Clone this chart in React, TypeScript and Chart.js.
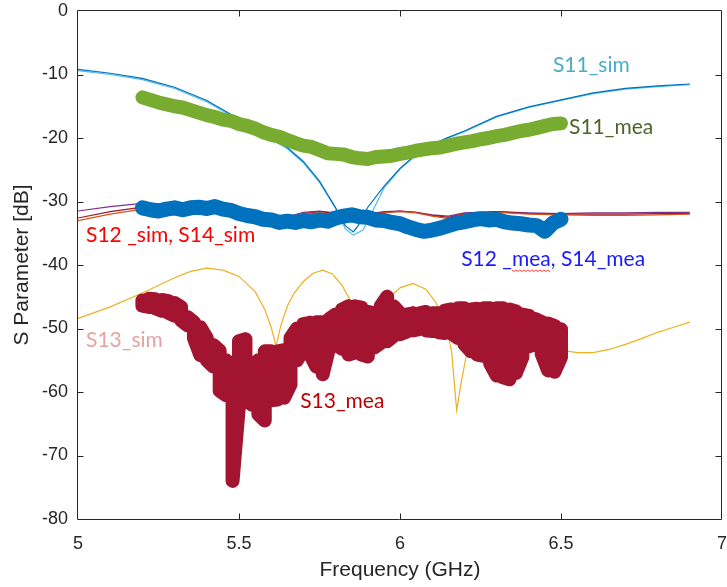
import React, { useEffect, useRef } from "react";
import { Chart, registerables } from "chart.js";

Chart.register(...registerables);

// ---- simulated S11 (two overlapping traces) ----
const s11SimFreq = [5.0, 5.1, 5.2, 5.3, 5.4, 5.5, 5.6, 5.65, 5.7, 5.75, 5.8, 5.83, 5.855, 5.87, 5.9, 5.95, 6.0, 6.05, 6.1, 6.15, 6.2, 6.3, 6.4, 6.5, 6.6, 6.7, 6.8, 6.9];
const s11Sim = [-9.2, -9.8, -10.6, -12.0, -14.1, -17.0, -20.0, -21.5, -23.7, -26.8, -31.0, -33.8, -34.8, -33.8, -30.9, -27.6, -24.8, -22.6, -21.0, -19.9, -18.9, -16.6, -15.1, -14.0, -12.9, -12.2, -11.8, -11.5];
const s11SimBFreq = [5.0, 5.1, 5.2, 5.3, 5.4, 5.5, 5.6, 5.65, 5.7, 5.75, 5.8, 5.83, 5.855, 5.885, 5.917, 5.95, 6.0, 6.05, 6.1, 6.15, 6.2, 6.3, 6.4, 6.5, 6.6, 6.7, 6.8, 6.9];
const s11SimB = [-9.4, -10.0, -10.8, -12.2, -14.3, -17.2, -20.2, -21.7, -23.9, -27.0, -31.0, -34.3, -35.3, -34.5, -31.3, -27.9, -24.9, -22.7, -21.1, -20.0, -19.0, -16.7, -15.2, -14.1, -13.0, -12.3, -11.9, -11.6];

// ---- simulated S12 / S14 ----
const simFreq = [5.0, 5.1, 5.2, 5.3, 5.4, 5.5, 5.6, 5.65, 5.7, 5.75, 5.8, 5.9, 5.95, 6.0, 6.05, 6.1, 6.15, 6.2, 6.3, 6.4, 6.5, 6.6, 6.7, 6.8, 6.9];
const s12Sim = [-33.0, -32.0, -31.2, -31.0, -31.7, -32.4, -32.8, -32.7, -32.0, -31.8, -32.0, -32.2, -31.8, -31.6, -31.8, -32.3, -32.7, -32.0, -31.7, -32.0, -32.1, -32.2, -32.2, -32.1, -32.0];
const s14Sim = [-31.5, -30.8, -30.3, -30.4, -31.2, -32.1, -32.6, -32.4, -31.7, -31.5, -31.8, -32.0, -31.6, -31.5, -31.7, -32.1, -32.3, -31.8, -31.6, -31.8, -31.9, -31.8, -31.8, -31.7, -31.7];
const s12SimB = [-32.6, -31.6, -30.9, -30.8, -31.5, -32.3, -32.7, -32.6, -31.9, -31.6, -31.9, -32.1, -31.7, -31.5, -31.7, -32.2, -32.5, -31.9, -31.6, -31.9, -32.0, -32.0, -32.0, -31.9, -31.9];

// ---- simulated S13 ----
const s13SimFreq = [5.0, 5.1, 5.2, 5.3, 5.35, 5.4, 5.45, 5.5, 5.55, 5.58, 5.6, 5.615, 5.63, 5.65, 5.67, 5.7, 5.73, 5.76, 5.79, 5.82, 5.85, 5.88, 5.91, 5.94, 5.97, 6.0, 6.04, 6.08, 6.11, 6.14, 6.16, 6.176, 6.19, 6.207, 6.225, 6.26, 6.3, 6.4, 6.5, 6.55, 6.6, 6.65, 6.7, 6.75, 6.8, 6.85, 6.9];
const s13Sim = [-48.4, -46.6, -44.4, -42.0, -41.0, -40.5, -40.8, -41.8, -44.2, -47.0, -49.8, -52.8, -49.5, -46.5, -44.5, -42.6, -41.3, -40.8, -41.4, -43.2, -46.0, -49.0, -50.5, -48.0, -45.0, -43.6, -42.9, -43.8, -45.8, -49.0, -53.5, -62.9, -58.5, -54.0, -51.3, -49.6, -49.4, -51.0, -53.4, -53.8, -53.8, -53.3, -52.5, -51.6, -50.6, -49.8, -49.0];

// ---- measured S11 and S12/S14 ----
const meaFreq = [5.2, 5.225, 5.25, 5.275, 5.3, 5.325, 5.35, 5.375, 5.4, 5.425, 5.45, 5.475, 5.5, 5.525, 5.55, 5.575, 5.6, 5.625, 5.65, 5.675, 5.7, 5.725, 5.75, 5.775, 5.8, 5.825, 5.85, 5.875, 5.9, 5.925, 5.95, 5.975, 6.0, 6.025, 6.05, 6.075, 6.1, 6.125, 6.15, 6.175, 6.2, 6.225, 6.25, 6.275, 6.3, 6.325, 6.35, 6.375, 6.4, 6.425, 6.45, 6.475, 6.5];
const s11Mea = [-13.6, -14.0, -14.4, -14.7, -15.0, -15.2, -15.6, -16.0, -16.4, -16.7, -17.1, -17.3, -17.8, -18.1, -18.5, -19.1, -19.5, -19.8, -20.3, -20.8, -21.2, -21.4, -21.9, -22.4, -22.5, -22.6, -23.0, -23.2, -23.3, -23.0, -22.9, -22.8, -22.5, -22.3, -22.0, -21.8, -21.6, -21.5, -21.2, -20.9, -20.7, -20.5, -20.2, -20.0, -19.7, -19.5, -19.2, -18.9, -18.7, -18.4, -18.1, -17.8, -17.7];
const s12Mea = [-31.0, -31.3, -31.5, -31.2, -31.0, -31.3, -31.0, -30.9, -31.1, -30.8, -31.2, -31.4, -31.9, -32.2, -32.4, -32.8, -32.9, -33.3, -33.1, -33.3, -33.0, -33.2, -32.9, -33.1, -32.6, -32.3, -32.1, -32.4, -32.5, -32.9, -33.0, -33.3, -33.5, -34.0, -34.4, -34.7, -34.5, -34.2, -33.8, -33.4, -33.2, -32.9, -32.7, -32.9, -32.8, -33.2, -33.4, -33.5, -33.7, -33.8, -34.7, -33.4, -32.8];

// ---- measured S13: upper / lower extent of the trace at each frequency ----
const s13MeaFreq = [5.2, 5.22, 5.24, 5.26, 5.28, 5.3, 5.32, 5.34, 5.36, 5.38, 5.4, 5.42, 5.44, 5.46, 5.48, 5.5, 5.52, 5.54, 5.56, 5.58, 5.6, 5.62, 5.64, 5.66, 5.68, 5.7, 5.72, 5.74, 5.76, 5.78, 5.8, 5.82, 5.84, 5.86, 5.88, 5.9, 5.92, 5.94, 5.96, 5.98, 6.0, 6.02, 6.04, 6.06, 6.08, 6.1, 6.12, 6.14, 6.16, 6.18, 6.2, 6.22, 6.24, 6.26, 6.28, 6.3, 6.32, 6.34, 6.36, 6.38, 6.4, 6.42, 6.44, 6.46, 6.48, 6.5];
const s13MeaHigh = [-45.6, -45.3, -45.4, -45.5, -45.7, -46.0, -46.6, -48.2, -49.0, -49.8, -51.5, -52.6, -53.5, -55.0, -56.0, -52.0, -51.7, -56.5, -55.0, -53.6, -53.6, -53.6, -53.4, -51.5, -50.0, -49.3, -49.1, -49.0, -49.0, -48.5, -47.8, -47.0, -46.5, -46.5, -46.7, -47.4, -47.6, -46.5, -45.0, -46.5, -47.6, -47.8, -47.6, -47.6, -47.4, -47.6, -47.6, -47.2, -47.0, -46.8, -46.8, -47.0, -46.9, -46.8, -46.8, -46.8, -46.8, -47.0, -47.3, -47.8, -48.0, -48.5, -49.0, -49.2, -49.6, -50.1];
const s13MeaLow = [-46.4, -46.6, -46.8, -47.2, -47.5, -48.0, -48.7, -49.5, -51.5, -54.2, -55.0, -56.0, -59.8, -60.5, -74.0, -62.0, -61.0, -62.0, -63.5, -64.5, -61.3, -61.2, -60.9, -58.8, -55.0, -53.4, -54.0, -56.0, -57.2, -53.0, -52.5, -53.2, -54.1, -53.8, -54.1, -54.4, -53.0, -52.3, -52.0, -51.2, -50.9, -50.5, -50.3, -50.1, -50.3, -50.4, -50.6, -50.7, -50.8, -51.5, -52.5, -53.6, -54.1, -54.3, -55.5, -57.4, -57.7, -58.0, -57.0, -54.5, -52.8, -52.5, -54.0, -56.6, -56.8, -54.5];

// ---- text labels placed on the plot (data coordinates of the text baseline start) ----
const labels = [
  { text: "S11_sim", color: "#4BACC6", x: 6.475, y: -9.56 },
  { text: "S11_mea", color: "#4F6228", x: 6.525, y: -19.37 },
  { text: "S12 _sim, S14_sim", color: "#FF0000", x: 5.025, y: -36.33 },
  { text: "S12 _mea, S14_mea", color: "#1A1AFF", x: 6.19, y: -40.16 },
  { text: "S13_sim", color: "#E6A3A3", x: 5.025, y: -52.87 },
  { text: "S13_mea", color: "#C00000", x: 5.69, y: -62.57 },
];

const xTicks = [5, 5.5, 6, 6.5, 7];
const yTicks = [-80, -70, -60, -50, -40, -30, -20, -10, 0];

const pts = (xs: number[], ys: number[]) => xs.map((x, i) => ({ x, y: ys[i] }));

// Meander through the upper and lower extent so a thick stroke fills the band.
const bandPath = (xs: number[], hi: number[], lo: number[]) =>
  xs.flatMap((x, i) =>
    i % 2 === 0
      ? [{ x, y: hi[i] }, { x, y: lo[i] }]
      : [{ x, y: lo[i] }, { x, y: hi[i] }]
  );

const thin = (label: string, data: { x: number; y: number }[], color: string) => ({
  label,
  data,
  showLine: true,
  borderColor: color,
  backgroundColor: color,
  borderWidth: 1.2,
  pointRadius: 0,
  order: 2,
});

const thick = (label: string, data: { x: number; y: number }[], color: string, width: number) => ({
  label,
  data,
  showLine: true,
  borderColor: color,
  backgroundColor: color,
  borderWidth: width,
  borderCapStyle: "round" as const,
  borderJoinStyle: "round" as const,
  pointRadius: 0,
  order: 1,
});

// Text labels on the plot.
const labelPlugin = {
  id: "plotLabels",
  afterDatasetsDraw(chart: any) {
    const ctx = chart.ctx;
    const xs = chart.scales.x;
    const ys = chart.scales.y;
    ctx.save();
    ctx.font = '21px Lato, "Open Sans", sans-serif';
    ctx.textAlign = "left";
    ctx.textBaseline = "alphabetic";
    for (const l of labels) {
      const px = xs.getPixelForValue(l.x);
      const py = ys.getPixelForValue(l.y);
      ctx.fillStyle = l.color;
      ctx.fillText(l.text, px, py);
      if (l.text.indexOf("S12 _mea") === 0) {
        // spell-check squiggle under "mea"
        const start = px + ctx.measureText("S12 _").width;
        const w = ctx.measureText("mea").width;
        ctx.strokeStyle = "#FF4040";
        ctx.lineWidth = 1;
        ctx.beginPath();
        for (let i = 0; i <= w; i += 2) {
          const yy = py + 4 + (Math.floor(i / 2) % 2 === 0 ? 0 : 1.5);
          if (i === 0) ctx.moveTo(start + i, yy);
          else ctx.lineTo(start + i, yy);
        }
        ctx.stroke();
      }
    }
    ctx.restore();
  },
};

// Axes box with inward tick marks on all four sides.
const framePlugin = {
  id: "axesFrame",
  afterDraw(chart: any) {
    const ctx = chart.ctx;
    const xs = chart.scales.x;
    const ys = chart.scales.y;
    const L = Math.round(xs.left) - 0.5;
    const R = Math.round(xs.right) - 0.5;
    const T = Math.round(ys.top) - 0.5;
    const B = Math.round(ys.bottom) + 0.5;
    const tl = 6;
    ctx.save();
    ctx.strokeStyle = "#262626";
    ctx.lineWidth = 1;
    ctx.beginPath();
    ctx.moveTo(L, T);
    ctx.lineTo(R, T);
    ctx.lineTo(R, B);
    ctx.lineTo(L, B);
    ctx.closePath();
    for (const v of xTicks.slice(1, -1)) {
      const px = Math.round(xs.getPixelForValue(v)) + 0.5;
      ctx.moveTo(px, B);
      ctx.lineTo(px, B - tl);
      ctx.moveTo(px, T);
      ctx.lineTo(px, T + tl);
    }
    for (const v of yTicks.slice(1, -1)) {
      const py = Math.round(ys.getPixelForValue(v)) + 0.5;
      ctx.moveTo(L, py);
      ctx.lineTo(L + tl, py);
      ctx.moveTo(R, py);
      ctx.lineTo(R - tl, py);
    }
    ctx.stroke();
    ctx.restore();
  },
};

export default function App() {
  const ref = useRef<HTMLCanvasElement>(null);

  useEffect(() => {
    if (!ref.current) return;
    const tickFont = { family: '"Liberation Sans", Arial, sans-serif', size: 18 };
    const titleFont = { family: '"Liberation Sans", Arial, sans-serif', size: 21 };
    const chart = new Chart(ref.current, {
      type: "scatter",
      data: {
        datasets: [
          thick("S11_mea", pts(meaFreq, s11Mea), "#77AC30", 14),
          thick("S12_mea", pts(meaFreq, s12Mea), "#0072BD", 15),
          thick("S13_mea", bandPath(s13MeaFreq, s13MeaHigh, s13MeaLow), "#A2142F", 14),
          thin("S11_sim", pts(s11SimFreq, s11Sim), "#0072BD"),
          thin("S11_sim_b", pts(s11SimBFreq, s11SimB), "#4DBEEE"),
          thin("S12_sim", pts(simFreq, s12Sim), "#D95319"),
          thin("S12_sim_b", pts(simFreq, s12SimB), "#A2142F"),
          thin("S14_sim", pts(simFreq, s14Sim), "#7E2F8E"),
          thin("S13_sim", pts(s13SimFreq, s13Sim), "#EDB120"),
        ] as any,
      },
      options: {
        animation: false,
        responsive: false,
        devicePixelRatio: 1,
        layout: { padding: { top: 11, right: 5, left: 0, bottom: 0 } },
        plugins: { legend: { display: false }, tooltip: { enabled: false } },
        elements: { point: { radius: 0 } },
        scales: {
          x: {
            type: "linear",
            min: 5,
            max: 7,
            afterBuildTicks: (s: any) => {
              s.ticks = xTicks.map((v) => ({ value: v }));
            },
            afterFit: (s: any) => {
              s.height = 68;
              s.paddingLeft = 0;
              s.paddingRight = 0;
              s.paddingTop = 0;
              s.paddingBottom = 0;
            },
            grid: { display: false, drawTicks: false },
            border: { display: false },
            ticks: {
              color: "#262626",
              font: tickFont,
              padding: 14,
              maxRotation: 0,
              callback: (v: any) => String(Number(v)),
            },
            title: {
              display: true,
              text: "Frequency (GHz)",
              color: "#262626",
              font: titleFont,
              padding: { top: 0, bottom: 4 },
            },
          },
          y: {
            type: "linear",
            min: -80,
            max: 0,
            afterBuildTicks: (s: any) => {
              s.ticks = yTicks.map((v) => ({ value: v }));
            },
            afterFit: (s: any) => {
              s.width = 78;
              s.paddingLeft = 0;
              s.paddingRight = 0;
              s.paddingTop = 0;
              s.paddingBottom = 0;
            },
            grid: { display: false, drawTicks: false },
            border: { display: false },
            ticks: {
              color: "#262626",
              font: tickFont,
              padding: 10,
              callback: (v: any) => String(Number(v)),
            },
            title: {
              display: true,
              text: "S Parameter [dB]",
              color: "#262626",
              font: titleFont,
              padding: { top: 10, bottom: 0 },
            },
          },
        },
      } as any,
      plugins: [labelPlugin, framePlugin],
    });
    return () => chart.destroy();
  }, []);

  return (
    <div style={{ position: "absolute", left: 0, top: 0, width: 727, height: 587, background: "#ffffff" }}>
      <canvas ref={ref} width={727} height={587} style={{ display: "block", width: 727, height: 587 }} />
    </div>
  );
}
